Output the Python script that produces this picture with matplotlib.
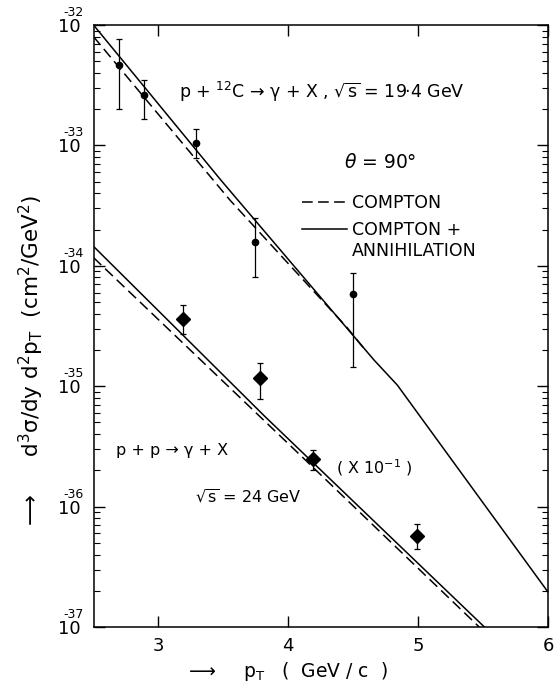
import numpy as np
import matplotlib
matplotlib.use('Agg')
import matplotlib.pyplot as plt
from matplotlib.ticker import LogLocator, FixedLocator, NullLocator, NullFormatter

# p + 12C data (dots)
pt_c = [2.70, 2.89, 3.29, 3.74, 4.50]
sig_c = [4.66e-33, 2.62e-33, 1.05e-33, 1.57e-34, 5.83e-35]
sig_c_hi = [7.65e-33, 3.49e-33, 1.37e-33, 2.48e-34, 8.67e-35]
sig_c_lo = [2.0e-33, 1.66e-33, 7.8e-34, 8.0e-35, 1.45e-35]

# p + p data (diamonds, x 10^-1)
pt_pp = [3.19, 3.78, 4.19, 4.99]
sig_pp = [3.61e-35, 1.16e-35, 2.48e-36, 5.7e-37]
sig_pp_hi = [4.72e-35, 1.55e-35, 2.95e-36, 7.18e-37]
sig_pp_lo = [2.7e-35, 7.9e-36, 2.01e-36, 4.45e-37]

# theory curves
pt_c_full = [2.5, 3.48, 4.66, 4.84, 6.0]
sig_c_full = [1.0e-32, 5.16e-34, 1.65e-35, 1.02e-35, 1.95e-37]
pt_c_comp = [2.5, 3.55, 4.45, 4.6]
sig_c_comp = [8.0e-33, 3.52e-34, 3.09e-35, 1.95e-35]
pt_pp_full = [2.5, 3.82, 5.51]
sig_pp_full = [1.45e-34, 5.6e-36, 1.0e-37]
pt_pp_comp = [2.5, 4.09, 5.47]
sig_pp_comp = [1.17e-34, 2.69e-36, 1.0e-37]

xticks = [3, 4, 5, 6]
decades = [32, 33, 34, 35, 36, 37]

plt.rcParams['font.family'] = ['DejaVu Sans']

fig = plt.figure(figsize=(5.54, 6.89), dpi=100)
ax = fig.add_axes([0.1688, 0.09, 0.8204, 0.8737])

dash = (0, (7, 3.5))
l_full, = ax.plot(pt_c_full, sig_c_full, color='black', lw=1.1)
l_comp, = ax.plot(pt_c_comp, sig_c_comp, color='black', lw=1.1, linestyle=dash)
ax.plot(pt_pp_full, sig_pp_full, color='black', lw=1.1)
ax.plot(pt_pp_comp, sig_pp_comp, color='black', lw=1.1, linestyle=dash)

yerr_c = [np.array(sig_c) - np.array(sig_c_lo), np.array(sig_c_hi) - np.array(sig_c)]
ax.errorbar(pt_c, sig_c, yerr=yerr_c, fmt='o', color='black', ms=4.5,
            elinewidth=0.9, capsize=2.2, capthick=0.9)
yerr_pp = [np.array(sig_pp) - np.array(sig_pp_lo), np.array(sig_pp_hi) - np.array(sig_pp)]
ax.errorbar(pt_pp, sig_pp, yerr=yerr_pp, fmt='D', color='black', ms=7.5,
            elinewidth=0.9, capsize=2.2, capthick=0.9)

ax.set_yscale('log')
ax.set_xlim(2.5, 6)
ax.set_ylim(1e-37, 1e-32)

ax.set_xticks(xticks)
ax.set_xticklabels([str(t) for t in xticks], fontsize=13)
ax.xaxis.set_minor_locator(NullLocator())
ax.yaxis.set_major_locator(FixedLocator([10.0 ** -e for e in decades]))
ax.yaxis.set_minor_locator(LogLocator(base=10, subs=range(2, 10), numticks=10))
ax.yaxis.set_minor_formatter(NullFormatter())
ax.set_yticklabels(['10'] * len(decades), fontsize=13)
ax.tick_params(which='major', direction='in', length=8, width=1, top=True, right=True)
ax.tick_params(axis='y', which='major', pad=9)
ax.tick_params(axis='x', which='major', pad=7)
ax.tick_params(which='minor', direction='in', length=4, width=0.8, top=True, right=True)
for sp in ax.spines.values():
    sp.set_linewidth(1.1)

for e in decades:
    ax.annotate('-%d' % e, xy=(0, 10.0 ** -e), xycoords=('axes fraction', 'data'),
                xytext=(-7, 9), textcoords='offset points', ha='right', va='center',
                fontsize=9)

ax.text(3.16, 2.78e-33, r'p + $^{12}$C → γ + X , $\sqrt{\mathrm{s}}$ = 19·4 GeV',
        fontsize=12.5, ha='left', va='center')
ax.text(4.43, 7.15e-34, r'$\theta$ = 90°', fontsize=13.5, ha='left', va='center')
ax.text(2.67, 2.95e-36, 'p + p → γ + X', fontsize=11.5, ha='left', va='center')
ax.text(3.28, 1.2e-36, r'$\sqrt{\mathrm{s}}$ = 24 GeV', fontsize=11.5, ha='left', va='center')
ax.text(4.37, 2.09e-36, r'( X 10$^{-1}$ )', fontsize=11.5, ha='left', va='center')

ax.legend([l_comp, l_full], ['COMPTON', 'COMPTON +'], frameon=False, fontsize=12.5,
          loc='upper left', bbox_to_anchor=(0.459, 0.719), borderaxespad=0, borderpad=0,
          handlelength=2.6, handletextpad=0.25, labelspacing=0.5)
ax.text(4.49, 1.33e-34, 'ANNIHILATION', fontsize=12.5, ha='left', va='center')

ax.set_xlabel(r'$\longrightarrow$    p$_\mathrm{T}$   (  GeV / c  )', fontsize=13.5)
ax.xaxis.set_label_coords(0.424, -0.055)
ax.set_ylabel(r'$\longrightarrow$     d$^3$σ/dy d$^2$p$_\mathrm{T}$  (cm$^2$/GeV$^2$)',
              fontsize=15.5, va='center')
ax.yaxis.set_label_coords(-0.137, 0.44)

fig.savefig('out.png', dpi=100)
